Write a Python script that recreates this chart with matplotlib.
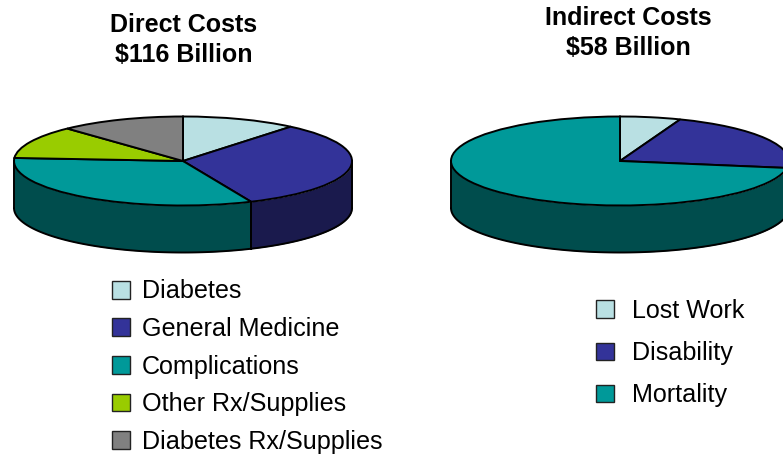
import numpy as np
import matplotlib
matplotlib.use('Agg')
import matplotlib.pyplot as plt
from matplotlib.patches import Patch

plt.rcParams['font.family'] = ['Liberation Sans', 'DejaVu Sans']

direct_labels = ['Diabetes', 'General Medicine', 'Complications', 'Other Rx/Supplies', 'Diabetes Rx/Supplies']
direct_values = [11.0, 32.4, 32.7, 11.9, 12.0]
direct_colors = ['#B9E0E3', '#333399', '#009999', '#99CC00', '#808080']
direct_sides = ['#5C7072', '#1A1A4D', '#004D4D', '#4D6600', '#404040']

indirect_labels = ['Lost Work', 'Disability', 'Mortality']
indirect_values = [5.8, 21.7, 72.5]
indirect_colors = ['#B9E0E3', '#333399', '#009999']
indirect_sides = ['#5C7072', '#1A1A4D', '#004D4D']

W, H = 783, 454
RX, RY, DEPTH = 169, 44.5, 47


def pie3d(cx, cy, values, colors, sides):
    # axes box in pixels, one data unit = the pie radius
    ax = fig.add_axes([(cx - RX) / W, 1 - (cy + RY + DEPTH) / H, 2 * RX / W, (2 * RY + DEPTH) / H])
    # side wall first, only the part that faces the viewer (90..270 from the top)
    edges = np.cumsum([0] + list(values)) / sum(values) * 360
    d = DEPTH / RY
    for i in range(len(values)):
        a0 = max(edges[i], 90)
        a1 = min(edges[i + 1], 270)
        if a1 <= a0:
            continue
        t = np.radians(np.linspace(a0, a1, 100))
        x = np.sin(t)
        y = np.cos(t)
        ax.fill_between(x, y, y - d, color=sides[i], lw=0)
        ax.plot(x, y - d, color='black', lw=1.4, solid_capstyle='round')
        ax.plot([x[0], x[0]], [y[0], y[0] - d], color='black', lw=1.4)
        ax.plot([x[-1], x[-1]], [y[-1], y[-1] - d], color='black', lw=1.4)
    ax.pie(values, colors=colors, startangle=90, counterclock=False, radius=1,
           wedgeprops={'edgecolor': 'black', 'linewidth': 1.4})
    ax.set_aspect('auto')
    ax.set_xlim(-1, 1)
    ax.set_ylim(-1 - d, 1)
    ax.axis('off')
    for a in ax.get_children():
        a.set_clip_on(False)
    return ax


def legend_at(x, y, labels, colors, spacing, pad):
    handles = [Patch(facecolor=c, edgecolor='#222222', linewidth=1) for c in colors]
    leg = fig.legend(handles, labels, loc='upper left', bbox_to_anchor=(x / W, 1 - y / H),
                     frameon=False, fontsize=18.1, handlelength=0.7, handleheight=0.7,
                     handletextpad=pad, labelspacing=spacing, borderpad=0, borderaxespad=0)
    return leg


fig = plt.figure(figsize=(W / 100, H / 100), dpi=100)

pie3d(183, 161, direct_values, direct_colors, direct_sides)
pie3d(620, 161, indirect_values, indirect_colors, indirect_sides)

fig.text(184 / W, 1 - 40 / H, 'Direct Costs\n$116 Billion'.replace('$', r'\$'), ha='center', va='center',
         fontsize=18, fontweight='bold', linespacing=1.35)
fig.text(628 / W, 1 - 33 / H, 'Indirect Costs\n$58 Billion'.replace('$', r'\$'), ha='center', va='center',
         fontsize=18, fontweight='bold', linespacing=1.35)

legend_at(112, 279.5, direct_labels, direct_colors, 0.54, 0.5)
legend_at(596, 299, indirect_labels, indirect_colors, 0.72, 0.74)

fig.savefig('out.png', dpi=100)
